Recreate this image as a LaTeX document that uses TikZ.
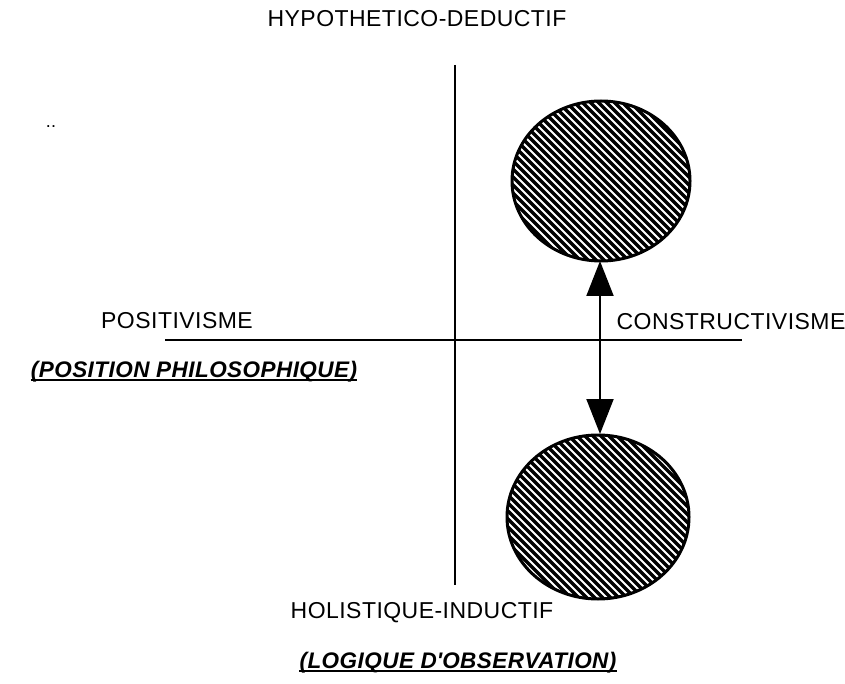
\documentclass[tikz,border=0pt]{standalone}
\usepackage{fontspec}
\setmainfont{Liberation Sans}[LetterSpace=2]
\usetikzlibrary{arrows.meta}
\begin{document}
\begin{tikzpicture}[x=1pt,y=-1pt,
  lbl/.style={font=\fontsize{23}{27}\selectfont, inner sep=0pt, anchor=base},
  sublbl/.style={font=\fontsize{22.5}{27}\selectfont\bfseries\itshape, inner sep=0pt, anchor=base},
  axis/.style={line width=2pt},
  bigtip/.style={-{Triangle[length=35pt,width=27pt]}},
  uline/.style={line width=2pt},
]
\useasboundingbox (0,0) rectangle (845,684);

% axes
\coordinate (vtop) at (455,65);
\coordinate (vbot) at (455,585);
\coordinate (hl) at (165,340);
\coordinate (hr) at (742,340);
\draw[axis] (vtop) -- (vbot);
\draw[axis] (hl) -- (hr);

% hatched discs
\foreach \nm/\cx/\cy/\rx/\ry in {up/601/181/89/80, down/598/517/91/82}{
  \begin{scope}
    \clip (\cx,\cy) ellipse [x radius=\rx, y radius=\ry];
    \fill[black] (\cx,\cy) ellipse [x radius=\rx, y radius=\ry];
    \foreach \k in {-32,...,32}{
      \draw[white, line width=1.8pt]
        ({\cx+\k*8-120},{\cy-120}) -- ({\cx+\k*8+120},{\cy+120});
    }
  \end{scope}
  \draw[line width=3pt] (\cx,\cy) ellipse [x radius=\rx, y radius=\ry];
}

% double arrow between the discs
\coordinate (amid) at (600,348);
\coordinate (atop) at (600,261);
\coordinate (abot) at (600,434);
\draw[line width=2pt, bigtip] (amid) -- (atop);
\draw[line width=2pt, bigtip] (amid) -- (abot);

% labels
\node[lbl] (hd) at (417,27) {HYPOTHETICO-DEDUCTIF};
\node[lbl] (pos) at (177,328) {POSITIVISME};
\node[lbl] (cons) at (731,329) {CONSTRUCTIVISME};
\node[lbl] (hi) at (422,618) {HOLISTIQUE-INDUCTIF};
\node[sublbl] (pp) at (194,377) {(POSITION PHILOSOPHIQUE)};
\node[sublbl] (lo) at (458,668) {(LOGIQUE D\textquotesingle OBSERVATION)};
\draw[uline] ([yshift=-3pt]pp.base west) -- ([yshift=-3pt]pp.base east);
\draw[uline] ([yshift=-3pt]lo.base west) -- ([yshift=-3pt]lo.base east);
\node[inner sep=0pt, anchor=base, font=\fontsize{18}{20}\selectfont] (dots) at (51,128) {..};
\end{tikzpicture}
\end{document}
